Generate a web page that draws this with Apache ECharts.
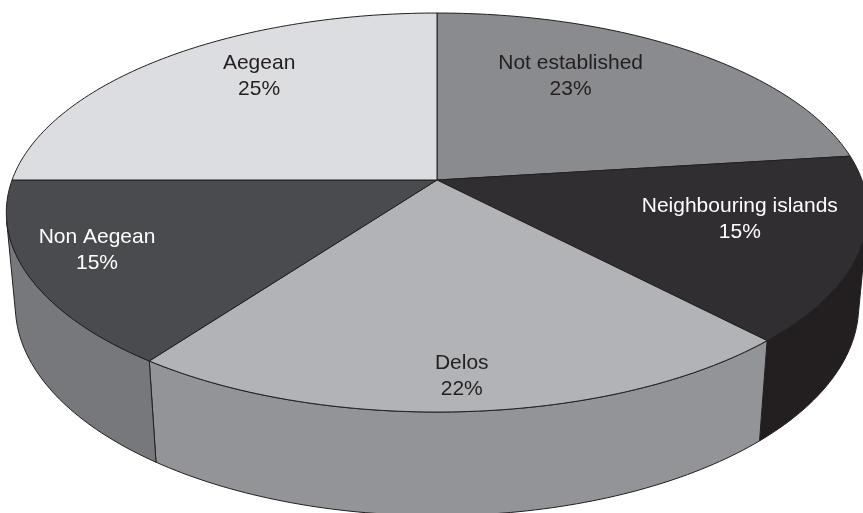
<!DOCTYPE html>
<html>
<head>
<meta charset="utf-8">
<title>Origin of finds</title>
<script src="https://cdn.jsdelivr.net/npm/echarts@6.0.0/dist/echarts.min.js"></script>
<style>
  html, body { margin: 0; padding: 0; background: #ffffff; }
  #chart { width: 863px; height: 513px; }
</style>
</head>
<body>
<div id="chart"></div>
<script>
// Slices, clockwise from twelve o'clock
const categories = ['Not established', 'Neighbouring islands', 'Delos', 'Non Aegean', 'Aegean'];
const values = [23, 15, 22, 15, 25];

// Fill colours: top faces and outer walls
const topColors = ['#8a8b8f', '#302e30', '#b2b3b7', '#4a4b4e', '#dcdde0'];
const sideColors = ['#6f7074', '#231f20', '#939498', '#77787c', '#b8b9bc'];
const labelColors = ['#231f20', '#ffffff', '#231f20', '#ffffff', '#231f20'];
// Label anchor on the top face: fraction of radius, and angle nudge (deg)
const labelRadius = [0.681, 0.717, 0.868, 0.829, 0.745];
const labelShift = [-11, -4, 0.3, 2.7, 7];

// Perspective camera for the disc (radius 1, thickness `depth`)
const view = {
  cx: 437, cy: 180,     // projected centre of the top face
  D: 5.455,             // camera distance
  f: 2318,              // focal length in px
  tilt: Math.asin(0.457),
  depth: 0.248
};
const cosT = Math.cos(view.tilt), sinT = Math.sin(view.tilt);

function project(deg, r, y) {
  const t = deg * Math.PI / 180;
  const X = r * Math.sin(t);
  const Z = r * Math.cos(t);
  const yp = y * cosT + Z * sinT;
  const d = Z * cosT - y * sinT;
  const s = view.f / (view.D + d);
  return [view.cx + X * s, view.cy - yp * s];
}

function arc(a0, a1, r, y) {
  const pts = [];
  const n = Math.max(2, Math.ceil(Math.abs(a1 - a0)));
  for (let k = 0; k <= n; k++) pts.push(project(a0 + (a1 - a0) * k / n, r, y));
  return pts;
}

const total = values.reduce((a, b) => a + b, 0);
const starts = [], ends = [];
values.reduce((acc, v, i) => {
  starts[i] = acc / total * 360;
  ends[i] = (acc + v) / total * 360;
  return acc + v;
}, 0);

// outer wall faces the camera where cos(theta) < -1/(D cos tilt)
const visLo = Math.acos(-1 / (view.D * cosT)) * 180 / Math.PI;
const visHi = 360 - visLo;

const seriesData = values.map((v, i) => ({ name: categories[i], value: v }));
const edge = '#231f20';

function renderWall(params) {
  const i = params.dataIndex;
  const a0 = Math.max(starts[i], visLo);
  const a1 = Math.min(ends[i], visHi);
  if (a1 <= a0) return { type: 'group', children: [] };
  const top = arc(a0, a1, 1, 0);
  const bottom = arc(a1, a0, 1, -view.depth);
  return {
    type: 'polygon',
    shape: { points: top.concat(bottom) },
    style: { fill: sideColors[i], stroke: edge, lineWidth: 1, lineJoin: 'round' }
  };
}

function renderTop(params) {
  const i = params.dataIndex;
  const pts = [project(0, 0, 0)].concat(arc(starts[i], ends[i], 1, 0));
  return {
    type: 'polygon',
    shape: { points: pts },
    style: { fill: topColors[i], stroke: edge, lineWidth: 1, lineJoin: 'round' }
  };
}

function renderLabel(params, api) {
  const i = params.dataIndex;
  const mid = (starts[i] + ends[i]) / 2 + labelShift[i];
  const p = project(mid, labelRadius[i], 0);
  return {
    type: 'text',
    x: p[0], y: p[1],
    style: {
      text: categories[i] + '\n' + api.value(0) + '%',
      fill: labelColors[i],
      font: '21px "Liberation Sans", Arial, Helvetica, sans-serif',
      lineHeight: 26,
      align: 'center',
      verticalAlign: 'middle'
    }
  };
}

const chart = echarts.init(document.getElementById('chart'), null, { renderer: 'canvas' });
chart.setOption({
  backgroundColor: '#ffffff',
  animation: false,
  series: [
    { type: 'custom', coordinateSystem: 'none', z: 1, data: seriesData, renderItem: renderWall, silent: true },
    { type: 'custom', coordinateSystem: 'none', z: 2, data: seriesData, renderItem: renderTop, silent: true },
    { type: 'custom', coordinateSystem: 'none', z: 3, data: seriesData, renderItem: renderLabel, silent: true }
  ]
});
</script>
</body>
</html>
